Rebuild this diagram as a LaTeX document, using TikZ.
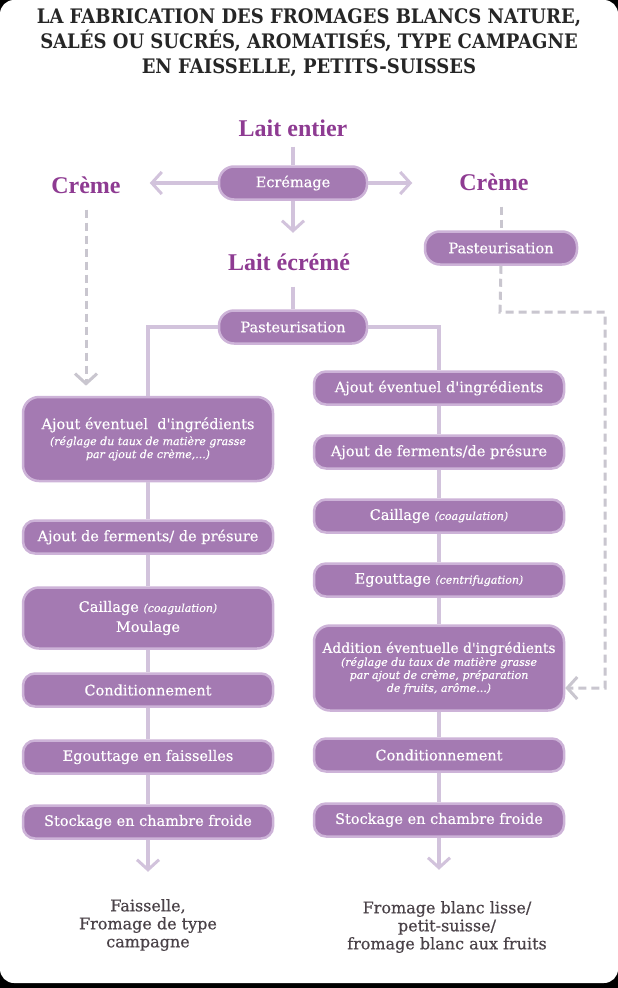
\documentclass[tikz,border=0pt]{standalone}
\usepackage{fontspec}
\setmainfont{DejaVu Serif}
\newfontfamily\titlefont[FakeStretch=0.9]{DejaVu Serif}
\newfontfamily\boxfont[FakeBold=0.5]{DejaVu Serif}
\newfontfamily\labelfont{Liberation Serif}
\usetikzlibrary{arrows.meta, positioning}

\definecolor{boxfill}{HTML}{A47AB2}
\definecolor{boxring}{HTML}{CDB3D8}
\definecolor{linkline}{HTML}{D2C3DC}
\definecolor{cremeline}{HTML}{C9C6CF}
\definecolor{labelpurple}{HTML}{8E3B92}
\definecolor{endtext}{HTML}{4A4248}

\newcommand{\subtxt}[1]{{\itshape\fontsize{11}{13}\selectfont #1}}

\begin{document}
\begin{tikzpicture}[
  x=1pt, y=-1pt,
  stepbox/.style={rectangle, rounded corners=12pt, fill=boxfill,
    draw=boxring, line width=2.5pt, text=white, align=center,
    font=\boxfont\fontsize{14.5}{17}\selectfont, inner sep=0pt,
    minimum width=250pt, minimum height=33pt},
  pill/.style={stepbox, minimum width=148pt, rounded corners=15pt},
  tallbox/.style={stepbox, rounded corners=16pt},
  milk/.style={font=\labelfont\bfseries\fontsize{24}{26}\selectfont,
    text=labelpurple, inner sep=0pt},
  product/.style={font=\boxfont\fontsize{16}{18}\selectfont,
    text=endtext, align=center, inner sep=0pt},
  link/.style={draw=linkline, line width=3.5pt},
  linkarrow/.style={link, -{Straight Barb[length=10pt, width=22pt, line width=3pt]}},
  cremelink/.style={draw=cremeline, line width=3pt, dash pattern=on 8pt off 5pt}
]
  % background card
  \fill[black] (0,0) rectangle (618,988);
  \fill[white, rounded corners=14pt] (0,0) rectangle (618,983);

  % title
  \node[font=\titlefont\bfseries\fontsize{20}{25}\selectfont, text=black!85,
    align=center, inner sep=0pt] (title) at (309,43)
    {LA FABRICATION DES FROMAGES BLANCS NATURE,\\
     SALÉS OU SUCRÉS, AROMATISÉS, TYPE CAMPAGNE\\
     EN FAISSELLE, PETITS-SUISSES};

  % milk and cream labels
  \node[milk] (entier) at (293,128) {Lait entier};
  \node[milk] (cremeL) at (86,185) {Crème};
  \node[milk] (cremeR) at (494,182) {Crème};
  \node[milk] (ecreme) at (289,262) {Lait écrémé};

  % top steps
  \node[pill] (ecremage) at (293,183) {Ecrémage};
  \node[pill, minimum width=152pt] (pastR) at (501,248) {Pasteurisation};
  \node[pill] (pastM) at (293,327) {Pasteurisation};

  % left column
  \node[tallbox, minimum height=84pt] (ajoutL) at (148,439)
    {Ajout éventuel\ \ d'ingrédients\\[-1pt]
     \subtxt{(réglage du taux de matière grasse}\\[-4pt]
     \subtxt{par ajout de crème,...)}};
  \node[stepbox] (fermL) at (148,537) {Ajout de ferments/ de présure};
  \node[tallbox, minimum height=61pt] (caillL) at (148,618)
    {Caillage \subtxt{(coagulation)}\\[3pt] Moulage};
  \node[stepbox] (condL) at (148,690) {Conditionnement};
  \node[stepbox] (egoutL) at (148,757) {Egouttage en faisselles};
  \node[stepbox] (stockL) at (148,822) {Stockage en chambre froide};

  % right column
  \node[stepbox] (ajoutR) at (439,388) {Ajout éventuel d'ingrédients};
  \node[stepbox] (fermR) at (439,452) {Ajout de ferments/de présure};
  \node[stepbox] (caillR) at (439,516) {Caillage \subtxt{(coagulation)}};
  \node[stepbox] (egoutR) at (439,580) {Egouttage \subtxt{(centrifugation)}};
  \node[tallbox, minimum height=85pt] (addR) at (439,668)
    {{\fontsize{13.8}{17}\selectfont Addition éventuelle d'ingrédients}\\[-4pt]
     \subtxt{(réglage du taux de matière grasse}\\[-4pt]
     \subtxt{par ajout de crème, préparation}\\[-4pt]
     \subtxt{de fruits, arôme...)}};
  \node[stepbox] (condR) at (439,755) {Conditionnement};
  \node[stepbox] (stockR) at (439,820) {Stockage en chambre froide};

  % end products
  \node[product] (faisselle) at (148,925)
    {Faisselle,\\Fromage de type\\campagne};
  \node[product] (lisse) at (447,927)
    {Fromage blanc lisse/\\petit-suisse/\\fromage blanc aux fruits};

  % skimming
  \draw[link] (entier.south) ++(0,10) -- (ecremage.north);
  \draw[linkarrow] (ecremage.west) -- ++(-68,0);
  \draw[linkarrow] (ecremage.east) -- ++(44,0);
  \draw[linkarrow] (ecremage.south) -- ++(0,32);
  \draw[link] (pastM.north |- ecreme.south) ++(0,16) -- (pastM.north);

  % two branches
  \draw[link] (pastM.west) -| (ajoutL.north);
  \draw[link] (pastM.east) -| (ajoutR.north);

  \draw[link] (ajoutL) -- (fermL);
  \draw[link] (fermL) -- (caillL);
  \draw[link] (caillL) -- (condL);
  \draw[link] (condL) -- (egoutL);
  \draw[link] (egoutL) -- (stockL);
  \draw[linkarrow] (stockL.south) -- ++(0,32);

  \draw[link] (ajoutR) -- (fermR);
  \draw[link] (fermR) -- (caillR);
  \draw[link] (caillR) -- (egoutR);
  \draw[link] (egoutR) -- (addR);
  \draw[link] (addR) -- (condR);
  \draw[link] (condR) -- (stockR);
  \draw[linkarrow] (stockR.south) -- ++(0,32);

  % cream paths
  \draw[cremelink, -{Straight Barb[length=10pt, width=22pt, line width=3pt]}]
    (cremeL.south) ++(0,16) -- ++(0,176);
  \coordinate (turnA) at (500,312);
  \coordinate (turnB) at (605,312);
  \coordinate (turnC) at (605,688);
  \draw[cremelink] (cremeR.south -| pastR.north) ++(0,16) -- (pastR.north);
  \draw[cremelink, -{Straight Barb[length=10pt, width=22pt, line width=3pt]}]
    (pastR.south) -- (turnA) -- (turnB) -- (turnC) -- (addR.east |- turnC);
\end{tikzpicture}
\end{document}
